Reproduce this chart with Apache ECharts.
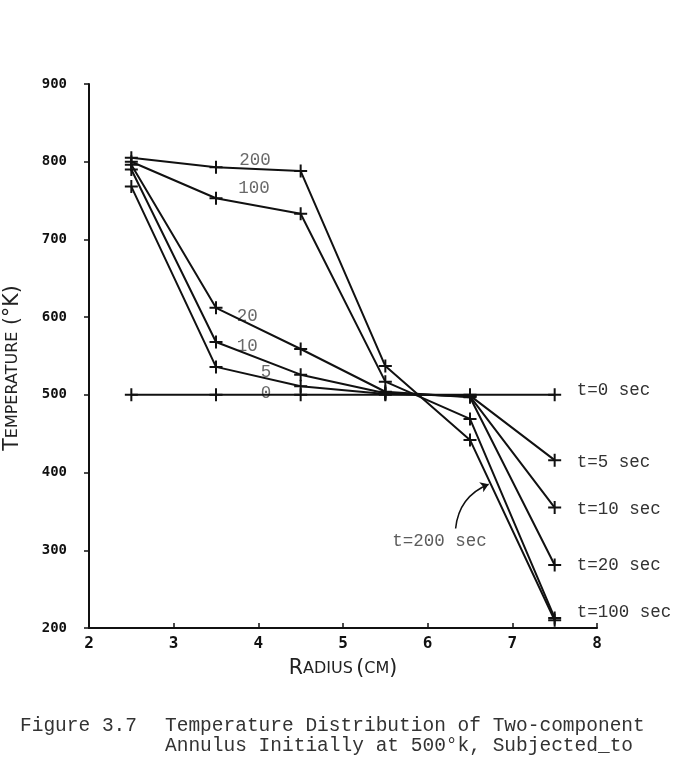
<!DOCTYPE html>
<html>
<head>
<meta charset="utf-8">
<script src="https://cdn.jsdelivr.net/npm/echarts@6/dist/echarts.min.js"></script>
<style>
  html, body { margin: 0; padding: 0; background: #fff; }
  #chart { width: 687px; height: 765px; }
</style>
</head>
<body>
<div id="chart"></div>
<script>
  // radius positions (cm)
  var radius = [2.5, 3.5, 4.5, 5.5, 6.5, 7.5];
  // temperature (K) for each time
  var t0   = [500, 500, 500, 500, 500, 500];
  var t5   = [768, 536, 511, 501, 499, 416];
  var t10  = [790, 568, 526, 502, 498, 355];
  var t20  = [796, 612, 559, 504, 497, 281];
  var t100 = [800, 753, 733, 517, 469, 213];
  var t200 = [805, 793, 788, 537, 442, 210];
  var xTicks = [2, 3, 4, 5, 6, 7, 8];
  var yTicks = [200, 300, 400, 500, 600, 700, 800, 900];

  // small labels written on the curves
  var curveNames = ['200', '100', '20', '10', '5', '0'];
  var curveNameAt = [[3.96, 802], [3.95, 766], [3.87, 601], [3.87, 563], [4.09, 529], [4.09, 502]];

  var plus = 'path://M0,5.5H13V7.5H0Z M5.5,0H7.5V13H5.5Z';
  var mono = 'Liberation Mono';
  var labelSize = 17.5;

  function pts(vals) {
    return radius.map(function (r, i) { return [r, vals[i]]; });
  }

  function lineSeries(name, vals, endText, endOffset) {
    var s = {
      name: name,
      type: 'line',
      data: pts(vals),
      symbol: plus,
      symbolSize: 13,
      showAllSymbol: true,
      lineStyle: { color: '#111', width: 2 },
      itemStyle: { color: '#111' },
      animation: false,
      z: 3
    };
    if (endText) {
      s.endLabel = {
        show: true,
        formatter: endText,
        offset: endOffset,
        fontFamily: mono,
        fontSize: labelSize,
        color: '#333'
      };
    }
    return s;
  }

  var nameRich = {
    b: { fontFamily: 'DejaVu Sans', fontSize: 20.5, color: '#222' },
    s: { fontFamily: 'DejaVu Sans', fontSize: 16, color: '#222' }
  };
  var xTickRich = {
    t: { fontFamily: 'DejaVu Sans Mono', fontWeight: 'bold', fontSize: 16, color: '#111' }
  };
  var yTickRich = {
    t: { fontFamily: 'DejaVu Sans Mono', fontWeight: 'bold', fontSize: 14, color: '#111' }
  };

  var myChart = echarts.init(document.getElementById('chart'));

  var option = {
    backgroundColor: '#fff',
    animation: false,
    grid: { left: 89, right: 90, top: 84, bottom: 137, containLabel: false, outerBoundsMode: 'none' },
    xAxis: {
      type: 'value',
      min: 2, max: 8, interval: 1,
      name: '{b|R}{s|ADIUS} {b|(}{s|CM}{b|)}',
      nameLocation: 'middle',
      nameGap: 30,
      nameTextStyle: { rich: nameRich },
      axisLine: { lineStyle: { color: '#111', width: 2 } },
      axisTick: { inside: true, length: 5, lineStyle: { color: '#111', width: 1.5 } },
      axisLabel: {
        margin: 8,
        rich: xTickRich,
        formatter: function (v) { return xTicks.indexOf(v) >= 0 ? '{t|' + v + '}' : ''; }
      },
      splitLine: { show: false }
    },
    yAxis: {
      type: 'value',
      min: 200, max: 900, interval: 100,
      name: '{b|T}{s|EMPERATURE}  {b|(°K)}',
      nameLocation: 'middle',
      nameGap: 66,
      nameRotate: 90,
      nameTextStyle: { rich: nameRich, padding: [0, 24, 0, 0] },
      axisLine: { show: true, lineStyle: { color: '#111', width: 2 } },
      axisTick: { show: true, length: 5, lineStyle: { color: '#111', width: 1.5 } },
      axisLabel: {
        margin: 22,
        rich: yTickRich,
        formatter: function (v) { return yTicks.indexOf(v) >= 0 ? '{t|' + v + '}' : ''; }
      },
      splitLine: { show: false }
    },
    series: [
      lineSeries('t=0', t0, 't=0 sec', [14, -4]),
      lineSeries('t=5', t5, 't=5 sec', [14, 2]),
      lineSeries('t=10', t10, 't=10 sec', [14, 2]),
      lineSeries('t=20', t20, 't=20 sec', [14, 0]),
      lineSeries('t=100', t100, 't=100 sec', [14, -6]),
      lineSeries('t=200', t200, null, null),
      {
        name: 'curve names',
        type: 'scatter',
        symbolSize: 1,
        itemStyle: { color: 'rgba(0,0,0,0)' },
        data: curveNames.map(function (n, i) { return { value: curveNameAt[i], name: n }; }),
        label: {
          show: true,
          position: 'inside',
          formatter: '{b}',
          fontFamily: mono,
          fontSize: labelSize,
          color: '#444'
        },
        animation: false,
        silent: true
      },
      {
        name: 't=200 note',
        type: 'scatter',
        symbolSize: 1,
        itemStyle: { color: 'rgba(0,0,0,0)' },
        data: [{ value: [6.14, 312], name: 't=200 sec' }],
        label: {
          show: true,
          position: 'inside',
          formatter: '{b}',
          fontFamily: mono,
          fontSize: labelSize,
          color: '#333'
        },
        animation: false,
        silent: true
      },
      {
        name: 'arrow',
        type: 'lines',
        coordinateSystem: 'cartesian2d',
        polyline: false,
        symbol: ['none', 'arrow'],
        symbolSize: 8,
        lineStyle: { color: '#111', width: 1.5, opacity: 1, curveness: 0.3 },
        data: [{ coords: [[6.33, 328], [6.72, 385]] }],
        animation: false,
        silent: true
      }
    ],
    graphic: [
      {
        type: 'text',
        left: 20,
        top: 716,
        style: {
          text: 'Figure 3.7',
          font: '19.5px "Liberation Mono"',
          fill: '#333'
        }
      },
      {
        type: 'text',
        left: 165,
        top: 716,
        style: {
          text: 'Temperature Distribution of Two-component\nAnnulus Initially at 500°k, Subjected_to',
          font: '19.5px "Liberation Mono"',
          fill: '#333',
          lineHeight: 20
        }
      }
    ]
  };

  myChart.setOption(option);
</script>
</body>
</html>
